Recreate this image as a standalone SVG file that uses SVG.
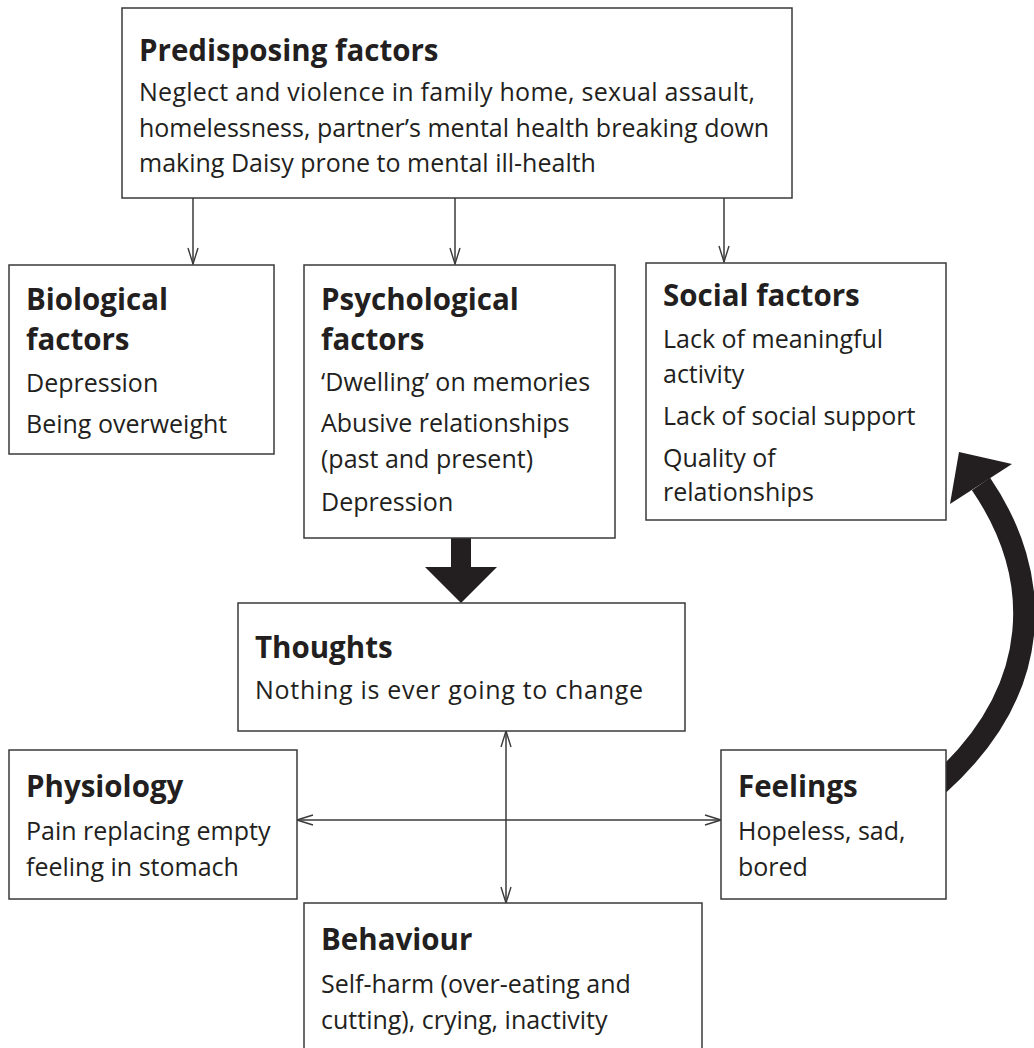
<svg xmlns="http://www.w3.org/2000/svg" width="1034" height="1048" viewBox="0 0 1034 1048">
  <style>
    .box { fill: #ffffff; stroke: #3a3a3a; stroke-width: 1.5; }
    .title { font-family: "Open Sans", "Liberation Sans", sans-serif; font-weight: 700; font-size: 29.5px; fill: #231f20; }
    .body { font-family: "Open Sans", "Liberation Sans", sans-serif; font-weight: 400; font-size: 25px; fill: #231f20; }
    .thin { fill: none; stroke: #3a3a3a; stroke-width: 1.5; }
    .heavy { fill: #231f20; stroke: none; }
  </style>
  <defs>
    <marker id="chevron" viewBox="0 0 18 12" refX="17" refY="6" markerWidth="18" markerHeight="12" markerUnits="userSpaceOnUse" orient="auto-start-reverse">
      <path d="M1,1 L17,6 L1,11" fill="none" stroke="#3a3a3a" stroke-width="1.4"/>
    </marker>
  </defs>

  <!-- connectors -->
  <g id="connectors">
    <path class="thin" d="M193,198 V264" marker-end="url(#chevron)"/>
    <path class="thin" d="M455,198 V264" marker-end="url(#chevron)"/>
    <path class="thin" d="M724,198 V262" marker-end="url(#chevron)"/>
    <path class="thin" d="M506,731 V903" marker-start="url(#chevron)" marker-end="url(#chevron)"/>
    <path class="thin" d="M297,820 H721" marker-start="url(#chevron)" marker-end="url(#chevron)"/>
    <!-- block arrow: psychological factors into thoughts -->
    <polygon class="heavy" points="451,538 471,538 471,567 497,567 461,603 425,567 451,567"/>
    <!-- curved feedback arrow: feelings back to social factors -->
    <path d="M938,785 C1046,688 1043,575 981,484" fill="none" stroke="#231f20" stroke-width="22"/>
    <polygon class="heavy" points="959,452 1012,464 950,504"/>
  </g>

  <g id="predisposing">
    <rect class="box" x="122" y="8" width="670" height="190"/>
    <text class="title" x="139" y="61">Predisposing factors</text>
    <text class="body" x="139" y="101" textLength="616">Neglect and violence in family home, sexual assault,</text>
    <text class="body" x="139" y="137">homelessness, partner’s mental health breaking down</text>
    <text class="body" x="139" y="172">making Daisy prone to mental ill-health</text>
  </g>

  <g id="biological">
    <rect class="box" x="9" y="265" width="265" height="189"/>
    <text class="title" x="26" y="310">Biological</text>
    <text class="title" x="26" y="350">factors</text>
    <text class="body" x="26" y="392">Depression</text>
    <text class="body" x="26" y="433">Being overweight</text>
  </g>

  <g id="psychological">
    <rect class="box" x="304" y="265" width="311" height="273"/>
    <text class="title" x="321" y="310">Psychological</text>
    <text class="title" x="321" y="350">factors</text>
    <text class="body" x="321" y="391">‘Dwelling’ on memories</text>
    <text class="body" x="321" y="432">Abusive relationships</text>
    <text class="body" x="321" y="468">(past and present)</text>
    <text class="body" x="321" y="511">Depression</text>
  </g>

  <g id="social">
    <rect class="box" x="646" y="263" width="300" height="257"/>
    <text class="title" x="663" y="306">Social factors</text>
    <text class="body" x="663" y="348">Lack of meaningful</text>
    <text class="body" x="663" y="383">activity</text>
    <text class="body" x="663" y="425">Lack of social support</text>
    <text class="body" x="663" y="467">Quality of</text>
    <text class="body" x="663" y="501">relationships</text>
  </g>

  <g id="thoughts">
    <rect class="box" x="238" y="603" width="447" height="128"/>
    <text class="title" x="255" y="658">Thoughts</text>
    <text class="body" x="255" y="699" textLength="388">Nothing is ever going to change</text>
  </g>

  <g id="physiology">
    <rect class="box" x="9" y="750" width="288" height="149"/>
    <text class="title" x="26" y="797">Physiology</text>
    <text class="body" x="26" y="840">Pain replacing empty</text>
    <text class="body" x="26" y="876">feeling in stomach</text>
  </g>

  <g id="feelings">
    <rect class="box" x="721" y="750" width="225" height="149"/>
    <text class="title" x="738" y="797">Feelings</text>
    <text class="body" x="738" y="840">Hopeless, sad,</text>
    <text class="body" x="738" y="876">bored</text>
  </g>

  <g id="behaviour">
    <rect class="box" x="304" y="903" width="398" height="152"/>
    <text class="title" x="321" y="950">Behaviour</text>
    <text class="body" x="321" y="993">Self-harm (over-eating and</text>
    <text class="body" x="321" y="1029">cutting), crying, inactivity</text>
  </g>
</svg>
